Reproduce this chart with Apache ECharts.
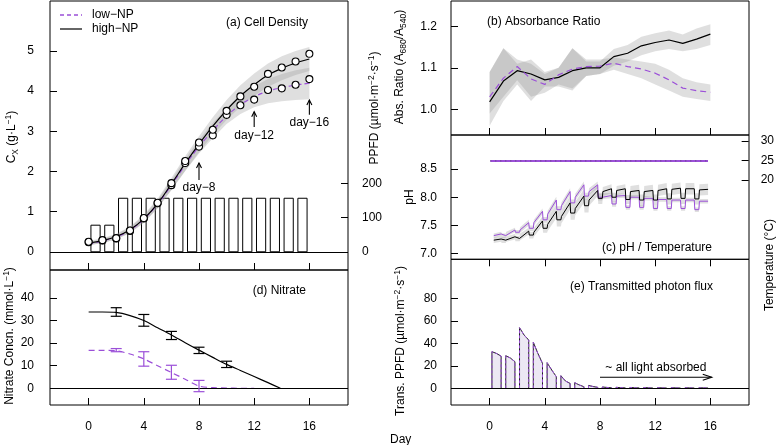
<!DOCTYPE html>
<html><head><meta charset="utf-8">
<script src="https://cdn.jsdelivr.net/npm/echarts@6/dist/echarts.min.js"></script>
<style>html,body{margin:0;padding:0;background:#fff}#c{width:777px;height:445px}</style>
</head><body><div id="c"></div>
<script>
// ================= DATA =================
const dayTicks = [0, 4, 8, 12, 16];
const LIGHT_ON = 4 / 24, LIGHT_OFF = 20 / 24;   // 16 h photoperiod

// (a) Cell density
const cxDays = [0,1,2,3,4,5,6,7,8,9,10,11,12,13,14,15,16];
const cxHighObs = [0.25,0.29,0.34,0.53,0.84,1.22,1.71,2.26,2.72,3.04,3.51,3.87,4.11,4.43,4.59,4.74,4.93];
const cxLowObs  = [0.24,0.28,0.33,0.52,0.83,1.21,1.66,2.21,2.62,2.90,3.41,3.65,3.79,4.03,4.07,4.16,4.30];
const cxHighFit = [0.22,0.28,0.38,0.55,0.82,1.20,1.69,2.20,2.68,3.13,3.53,3.88,4.16,4.40,4.57,4.70,4.80];
const cxLowFit  = [0.20,0.27,0.37,0.54,0.81,1.19,1.66,2.16,2.62,3.02,3.38,3.66,3.86,4.00,4.09,4.15,4.20];
const cxHighBandLo = [0.17,0.22,0.31,0.47,0.72,1.08,1.54,2.02,2.48,2.91,3.28,3.61,3.88,4.11,4.27,4.40,4.50];
const cxHighBandHi = [0.27,0.34,0.45,0.63,0.92,1.32,1.84,2.38,2.88,3.35,3.78,4.15,4.44,4.69,4.87,5.00,5.10];
const cxLowBandLo  = [0.16,0.22,0.31,0.47,0.73,1.09,1.54,2.01,2.45,2.83,3.18,3.43,3.60,3.70,3.75,3.78,3.80];
const cxLowBandHi  = [0.24,0.32,0.43,0.61,0.89,1.29,1.78,2.31,2.79,3.21,3.58,3.89,4.12,4.30,4.43,4.52,4.58];
const ppfdDays = [0,1,2,3,4,5,6,7,8,9,10,11,12,13,14,15];
const ppfd     = [78,78,157,157,157,157,157,157,157,157,157,157,157,157,157,157];
const annDays  = [8, 12, 16];
const annText  = ['day\u22128', 'day\u221212', 'day\u221216'];
const annTail  = [1.79, 3.11, 3.41];
const annHead  = [2.21, 3.49, 3.78];
const annLabel = [1.60, 2.90, 3.21];

// (d) Nitrate
const nitHighObsDays = [2,4,6,8,10];
const nitHighObs = [33.8,30.1,23.4,16.8,10.6];
const nitHighSd  = [1.9,2.6,1.8,1.4,1.4];
const nitLowObsDays = [2,4,6,8];
const nitLowObs = [16.9,13.0,7.1,1.0];
const nitLowSd  = [0.7,3.2,3.1,2.5];
const nitHighFitDays = [0,1,2,3,4,5,6,7,8,9,10,11,12,13,13.9];
const nitHighFit = [33.8,33.8,33.6,32.2,30.0,26.8,23.6,20.2,16.9,13.7,10.6,7.9,5.2,2.5,0];
const nitLowFitDays = [0,1,2,3,4,5,6,7,8,9,10,11,12];
const nitLowFit = [16.8,16.8,16.6,15.2,13.0,10.0,7.0,4.0,1.0,0.3,0.1,0.0,0.0];

// (b) Absorbance ratio
const absDays = [0,1,2,3,4,5,6,7,8,9,10,11,12,13,14,15,16];
const absHigh = [1.018,1.068,1.093,1.085,1.071,1.077,1.093,1.100,1.100,1.127,1.135,1.153,1.161,1.167,1.159,1.169,1.181];
const absLow  = [1.030,1.075,1.103,1.073,1.060,1.083,1.097,1.103,1.104,1.111,1.103,1.097,1.087,1.071,1.051,1.045,1.041];
const absHighLo = [0.960,1.020,1.060,1.020,1.055,1.055,1.045,1.080,1.085,1.105,1.115,1.130,1.140,1.145,1.140,1.145,1.155];
const absHighHi = [1.090,1.147,1.110,1.120,1.090,1.100,1.147,1.115,1.115,1.145,1.155,1.175,1.183,1.190,1.180,1.195,1.205];
const absLowLo  = [0.990,1.030,1.070,1.030,1.040,1.060,1.050,1.080,1.085,1.095,1.085,1.075,1.060,1.045,1.030,1.025,1.020];
const absLowHi  = [1.090,1.147,1.120,1.110,1.085,1.100,1.147,1.120,1.120,1.125,1.120,1.115,1.110,1.095,1.075,1.065,1.060];

// (c) pH / temperature (per light-dark cycle)
const pHHiStart = [7.24,7.26,7.30,7.38,7.52,7.66,7.80,7.95,8.10,8.12,8.10,8.10,8.12,8.14,8.15,8.13];
const pHHiEnd   = [7.26,7.30,7.40,7.58,7.75,7.90,8.02,8.12,8.15,8.15,8.12,8.12,8.15,8.16,8.15,8.14];
const pHHiDark  = [7.24,7.27,7.33,7.45,7.60,7.72,7.85,7.98,8.00,7.96,7.95,7.95,7.97,7.98,7.97,7.97];
const pHLoStart = [7.32,7.35,7.42,7.55,7.70,7.85,8.00,8.10,8.02,8.02,8.00,7.98,7.96,7.95,7.95,7.93];
const pHLoEnd   = [7.35,7.42,7.55,7.75,7.95,8.10,8.22,8.22,8.03,8.03,8.00,7.98,7.96,7.95,7.95,7.93];
const pHLoDark  = [7.32,7.38,7.45,7.60,7.78,7.90,8.02,8.00,7.88,7.82,7.82,7.80,7.80,7.80,7.78,7.78];
const pHHiSpread = [0.05,0.05,0.06,0.08,0.12,0.12,0.12,0.10,0.08,0.08,0.10,0.10,0.10,0.10,0.10,0.10];
const pHLoSpread = [0.04,0.04,0.05,0.05,0.06,0.06,0.06,0.06,0.05,0.04,0.04,0.04,0.04,0.04,0.04,0.04];
const tempDays = [0.05,2,4,6,8,10,12,14,15.85];
const tempC    = [24.9,24.9,24.9,24.9,24.9,24.9,24.9,24.9,24.9];

// (e) Transmitted photon flux (per light period)
const transDays  = [0,1,2,3,4,5,6,7,8,9,10,11,12,13,14,15];
const transStart = [32.6,29.0,53.9,40.9,22.8,11.2,5.0,2.6,1.2,0.9,0.8,0.7,0.6,0.6,0.5,0.5];
const transMid   = [31.0,27.0,47.4,31.0,16.3,6.5,3.0,1.6,0.8,0.6,0.5,0.5,0.4,0.4,0.4,0.4];
const transEnd   = [28.6,23.7,42.9,22.2,10.4,4.4,1.5,0.9,0.5,0.4,0.4,0.3,0.3,0.3,0.3,0.3];
const absorbedArrow = {from: 8, to: 16.1, level: 9.8, label: '~ all light absorbed', labelLevel: 18.7};

// ================= STYLE =================
const F = '"Liberation Sans", Arial, Helvetica, sans-serif';
const PURPLE = '#9b4fd8';
const BAND = 'rgba(150,150,150,0.30)';
const FS = 12;

function xAx(grid, labels, inside) {
  return {type:'value', gridIndex:grid, min:-2.8, max:18.8, position:'bottom',
    axisLine:{show:false, onZero:false}, splitLine:{show:false},
    axisTick:{show:true, inside: inside !== false, length:7, customValues:dayTicks, lineStyle:{color:'#000', width:1}},
    axisLabel:{show:labels, customValues:dayTicks, margin:16, color:'#000', fontSize:FS, fontFamily:F}};
}
function yAx(grid, min, max, ticks, pos, margin, fmt, showTick) {
  return {type:'value', gridIndex:grid, min, max, position:pos,
    axisLine:{show:false, onZero:false}, splitLine:{show:false},
    axisTick:{show: showTick !== false, inside:true, length:7, customValues:ticks, lineStyle:{color:'#000', width:1}},
    axisLabel:{show:true, customValues:ticks, margin, color:'#000', fontSize:FS, fontFamily:F,
      formatter: fmt || (v => String(v))}};
}
function bandSeries(xi, yi, xs, lo, hi, color, z) {
  return {type:'custom', xAxisIndex:xi, yAxisIndex:yi, silent:true, z, clip:true,
    data: xs.map((x, i) => [x, lo[i], hi[i]]),
    renderItem(params, api) {
      if (params.dataIndex !== 0) return null;
      const pts = [];
      for (let i = 0; i < xs.length; i++) pts.push(api.coord([xs[i], hi[i]]));
      for (let i = xs.length - 1; i >= 0; i--) pts.push(api.coord([xs[i], lo[i]]));
      return {type:'polygon', shape:{points:pts}, style:{fill:color, stroke:null}};
    }};
}
function buildPH(st, en, dk) {
  const pts = [];
  for (let d = 0; d < st.length; d++) {
    if (d === 0) pts.push([d + 0.3, st[0], d]);
    else { pts.push([d + LIGHT_ON, dk[d - 1], d - 1]); pts.push([d + LIGHT_ON + 0.04, st[d], d]); }
    pts.push([d + LIGHT_OFF, en[d], d]);
    if (d < st.length - 1) pts.push([d + LIGHT_OFF + 0.04, dk[d], d]);
  }
  return pts;
}
const phHi = buildPH(pHHiStart, pHHiEnd, pHHiDark);
const phLo = buildPH(pHLoStart, pHLoEnd, pHLoDark);
function phBand(pts, spread) {
  return bandSeries(3, 4, pts.map(p => p[0]), pts.map(p => p[1] - spread[p[2]]), pts.map(p => p[1] + spread[p[2]]), BAND, 2);
}
function errSeries(xi, yi, xs, m, sd, color) {
  return {type:'custom', xAxisIndex:xi, yAxisIndex:yi, silent:true, z:5,
    data: xs.map((x, i) => [x, m[i] - sd[i], m[i] + sd[i]]),
    renderItem(params, api) {
      const a = api.coord([api.value(0), api.value(1)]);
      const b = api.coord([api.value(0), api.value(2)]);
      const w = 5.5, st = {stroke: color, lineWidth: 1.2};
      return {type:'group', children:[
        {type:'line', shape:{x1:a[0], y1:a[1], x2:b[0], y2:b[1]}, style:st},
        {type:'line', shape:{x1:a[0]-w, y1:a[1], x2:a[0]+w, y2:a[1]}, style:st},
        {type:'line', shape:{x1:b[0]-w, y1:b[1], x2:b[0]+w, y2:b[1]}, style:st}]};
    }};
}
function transSeries(stroke, dash, fill, z) {
  return {type:'custom', xAxisIndex:4, yAxisIndex:5, silent:true, z, clip:true,
    data: transDays.map((d, i) => [d, transStart[i], transMid[i], transEnd[i]]),
    renderItem(params, api) {
      const d = api.value(0);
      const pts = [api.coord([d + LIGHT_ON, 0]), api.coord([d + LIGHT_ON, api.value(1)]),
        api.coord([(d + LIGHT_ON + d + LIGHT_OFF) / 2, api.value(2)]),
        api.coord([d + LIGHT_OFF, api.value(3)]), api.coord([d + LIGHT_OFF, 0])];
      return fill ? {type:'polygon', shape:{points:pts}, style:{fill:fill}}
                  : {type:'polyline', shape:{points:pts}, style:{stroke, lineWidth:1, lineDash:dash, fill:null}};
    }};
}
const zeroLine = {silent:true, symbol:'none', label:{show:false}, lineStyle:{color:'#000', type:'solid', width:1}, data:[{yAxis:0}]};

const option = {
  animation:false, backgroundColor:'#fff',
  grid:[
    {left:50, top:1, width:298, height:269, show:true, borderColor:'#000', borderWidth:1, backgroundColor:'transparent'},
    {left:50, top:270, width:298, height:135, show:true, borderColor:'#000', borderWidth:1, backgroundColor:'transparent'},
    {left:451, top:1, width:298, height:134, show:true, borderColor:'#000', borderWidth:1, backgroundColor:'transparent'},
    {left:451, top:135, width:298, height:124.3, show:true, borderColor:'#000', borderWidth:1, backgroundColor:'transparent'},
    {left:451, top:259.3, width:298, height:145.7, show:true, borderColor:'#000', borderWidth:1, backgroundColor:'transparent'},
    {left:451, top:141, width:298, height:39, show:false}
  ],
  xAxis:[xAx(0,false), xAx(1,true), xAx(2,false), xAx(3,false,false), xAx(4,true),
    {type:'value', gridIndex:5, min:-2.8, max:18.8, show:false}],
  yAxis:[
    yAx(0, -0.453, 6.245, [0,1,2,3,4,5], 'left', 16),
    yAx(0, -53.4, 735.5, [0,100,200], 'right', 14),
    yAx(1, -7.4, 52.4, [0,10,20,30,40], 'left', 16),
    yAx(2, 0.938, 1.261, [1.0,1.1,1.2], 'left', 14, v => v.toFixed(1)),
    yAx(3, 6.901, 9.102, [7.0,7.5,8.0,8.5], 'left', 14, v => v.toFixed(1)),
    yAx(4, -14.8, 114.7, [0,20,40,60,80], 'left', 14),
    yAx(5, 20, 30, [20,25,30], 'right', 12)
  ],
  series:[
    // (a)
    {type:'custom', xAxisIndex:0, yAxisIndex:1, silent:true, z:1, data: ppfdDays.map((d, i) => [d, ppfd[i]]),
      renderItem(params, api) {
        const d = api.value(0);
        const p0 = api.coord([d + LIGHT_ON, api.value(1)]), p1 = api.coord([d + LIGHT_OFF, 0]);
        return {type:'rect', shape:{x:p0[0], y:p0[1], width:p1[0]-p0[0], height:p1[1]-p0[1]}, style:{fill:'#fff', stroke:'#000', lineWidth:1}};
      }},
    bandSeries(0, 0, cxDays, cxLowBandLo, cxLowBandHi, BAND, 2),
    bandSeries(0, 0, cxDays, cxHighBandLo, cxHighBandHi, BAND, 2),
    {type:'line', xAxisIndex:0, yAxisIndex:0, z:3, data: cxDays.map((d, i) => [d, cxLowFit[i]]), smooth:0.4, showSymbol:false,
      lineStyle:{color:PURPLE, width:1.2, type:[5,3]}, markLine: zeroLine},
    {type:'line', xAxisIndex:0, yAxisIndex:0, z:3, data: cxDays.map((d, i) => [d, cxHighFit[i]]), smooth:0.4, showSymbol:false,
      lineStyle:{color:'#000', width:1.2}},
    {type:'scatter', xAxisIndex:0, yAxisIndex:0, z:4, data: cxDays.map((d, i) => [d, cxLowObs[i]]), symbolSize:7,
      itemStyle:{color:'#fff', borderColor:'#000', borderWidth:1.1, opacity:1}},
    {type:'scatter', xAxisIndex:0, yAxisIndex:0, z:4, data: cxDays.map((d, i) => [d, cxHighObs[i]]), symbolSize:7,
      itemStyle:{color:'#fff', borderColor:'#000', borderWidth:1.1, opacity:1}},
    // (d)
    {type:'line', xAxisIndex:1, yAxisIndex:2, z:3, data: nitHighFitDays.map((d, i) => [d, nitHighFit[i]]), smooth:0.3, showSymbol:false,
      lineStyle:{color:'#000', width:1.2}, markLine: zeroLine},
    {type:'line', xAxisIndex:1, yAxisIndex:2, z:3, data: nitLowFitDays.map((d, i) => [d, nitLowFit[i]]), smooth:0.3, showSymbol:false,
      lineStyle:{color:PURPLE, width:1.2, type:[6,4]}},
    errSeries(1, 2, nitHighObsDays, nitHighObs, nitHighSd, '#000'),
    errSeries(1, 2, nitLowObsDays, nitLowObs, nitLowSd, PURPLE),
    // (b)
    bandSeries(2, 3, absDays, absLowLo, absLowHi, BAND, 2),
    bandSeries(2, 3, absDays, absHighLo, absHighHi, BAND, 2),
    {type:'line', xAxisIndex:2, yAxisIndex:3, z:3, data: absDays.map((d, i) => [d, absHigh[i]]), showSymbol:false,
      lineStyle:{color:'#000', width:1.2}},
    {type:'line', xAxisIndex:2, yAxisIndex:3, z:3, data: absDays.map((d, i) => [d, absLow[i]]), showSymbol:false,
      lineStyle:{color:PURPLE, width:1.2, type:[6,4]}},
    // (c)
    phBand(phLo, pHLoSpread),
    phBand(phHi, pHHiSpread),
    {type:'line', xAxisIndex:3, yAxisIndex:4, z:3, data: phLo.map(p => [p[0], p[1]]), showSymbol:false,
      lineStyle:{color:PURPLE, width:1}},
    {type:'line', xAxisIndex:3, yAxisIndex:4, z:3, data: phHi.map(p => [p[0], p[1]]), showSymbol:false,
      lineStyle:{color:'#000', width:1}},
    {type:'line', xAxisIndex:5, yAxisIndex:6, z:3, data: tempDays.map((d, i) => [d, tempC[i]]), showSymbol:false,
      lineStyle:{color:PURPLE, width:2}},
    {type:'line', xAxisIndex:5, yAxisIndex:6, z:4, data: tempDays.map((d, i) => [d, tempC[i]]), showSymbol:false,
      lineStyle:{color:'#333', width:1, type:[1,4], opacity:0.6}},
    // (e)
    transSeries(null, null, '#ece8f3', 2),
    transSeries('#222', null, null, 3),
    transSeries(PURPLE, [3,2], null, 4),
    {type:'line', xAxisIndex:4, yAxisIndex:5, z:1, data:[], markLine: zeroLine}
  ]
};

const chart = echarts.init(document.getElementById('c'));
chart.setOption(option);

// ---------- annotations & texts ----------
const px = (g, pt) => chart.convertToPixel({xAxisIndex: g.x, yAxisIndex: g.y}, pt);
const G = [];
function txt(x, y, text, opt) {
  G.push(Object.assign({type:'text', x, y, silent:true, z:100,
    style:Object.assign({text, font: FS + 'px ' + F, fill:'#000', align:'left', verticalAlign:'middle'}, opt || {})}));
}
function rtxt(x, y, text) {
  G.push({type:'text', x, y, rotation:Math.PI/2, silent:true, z:100,
    style:{text, font: FS + 'px ' + F, fill:'#000', align:'center', verticalAlign:'middle',
      rich:{n:{fontSize:FS, fontFamily:F, fill:'#000', lineHeight:16, verticalAlign:'middle'},
            sup:{fontSize:8.5, fontFamily:F, fill:'#000', lineHeight:16, verticalAlign:'top'},
            sub:{fontSize:8.5, fontFamily:F, fill:'#000', lineHeight:16, verticalAlign:'bottom'}}}});
}
function arrowUp(x, yTail, yHead) {
  G.push({type:'polyline', silent:true, z:100, shape:{points:[[x, yTail],[x, yHead]]}, style:{stroke:'#000', lineWidth:1.1, fill:null}});
  G.push({type:'polyline', silent:true, z:100, shape:{points:[[x-2.5, yHead+5],[x, yHead],[x+2.5, yHead+5]]}, style:{stroke:'#000', lineWidth:1.1, fill:null}});
}
annDays.forEach((d, i) => {
  const t = px({x:0, y:0}, [d, annTail[i]]), h = px({x:0, y:0}, [d, annHead[i]]), l = px({x:0, y:0}, [d, annLabel[i]]);
  arrowUp(t[0], t[1], h[1]);
  txt(l[0], l[1], annText[i], {align:'center'});
});
{
  const a = px({x:4, y:5}, [absorbedArrow.from, absorbedArrow.level]);
  const b = px({x:4, y:5}, [absorbedArrow.to, absorbedArrow.level]);
  const l = px({x:4, y:5}, [(absorbedArrow.from + absorbedArrow.to) / 2, absorbedArrow.labelLevel]);
  G.push({type:'polyline', silent:true, z:100, shape:{points:[a, b]}, style:{stroke:'#000', lineWidth:1.1, fill:null}});
  G.push({type:'polyline', silent:true, z:100, shape:{points:[[b[0]-9, b[1]-3],[b[0], b[1]],[b[0]-9, b[1]+3]]}, style:{stroke:'#000', lineWidth:1.1, fill:null}});
  txt(l[0], l[1], absorbedArrow.label, {align:'center'});
}
// legend
G.push({type:'line', silent:true, z:100, shape:{x1:60, y1:15, x2:82, y2:15}, style:{stroke:PURPLE, lineWidth:1.4, lineDash:[4,3]}});
G.push({type:'line', silent:true, z:100, shape:{x1:60, y1:29, x2:82, y2:29}, style:{stroke:'#000', lineWidth:1.2}});
txt(92, 15, 'low\u2212NP');
txt(92, 29, 'high\u2212NP');
// panel titles
txt(308, 23, '(a) Cell Density', {align:'right'});
txt(306, 291, '(d) Nitrate', {align:'right'});
txt(487, 22, '(b) Absorbance Ratio');
txt(712, 248, '(c) pH / Temperature', {align:'right'});
txt(713, 287, '(e) Transmitted photon flux', {align:'right'});
txt(390, 440, 'Day');
// axis titles
rtxt(12, 137, '{n|C}{sub|X}{n| (g·L}{sup|\u22121}{n|)}');
rtxt(375, 108, '{n|PPFD (µmol·m}{sup|\u22122}{n|·s}{sup|\u22121}{n|)}');
rtxt(10, 336, '{n|Nitrate Concn. (mmol·L}{sup|\u22121}{n|)}');
rtxt(400, 67, '{n|Abs. Ratio (A}{sub|680}{n|/A}{sub|540}{n|)}');
rtxt(410, 197, '{n|pH}');
rtxt(401, 341, '{n|Trans. PPFD (µmol·m}{sup|\u22122}{n|·s}{sup|\u22121}{n|)}');
rtxt(770, 265, '{n|Temperature (°C)}');
chart.setOption({graphic: G});
</script></body></html>
